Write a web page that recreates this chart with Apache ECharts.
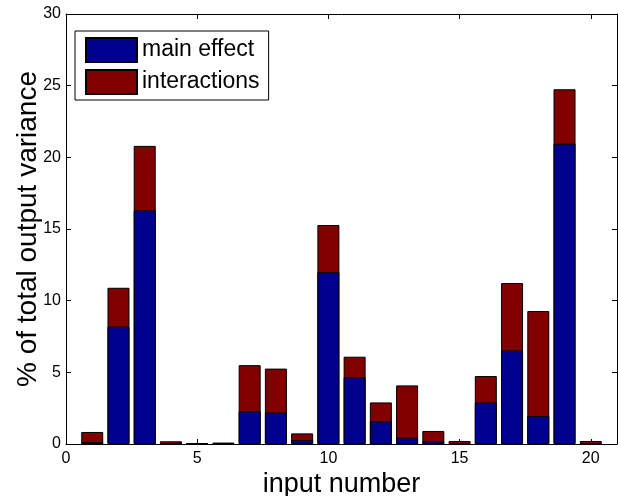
<!DOCTYPE html>
<html>
<head>
<meta charset="utf-8">
<script src="https://cdn.jsdelivr.net/npm/echarts@6/dist/echarts.min.js"></script>
<style>
    html, body { margin: 0; padding: 0; background: #fff; }
    #chart { width: 618px; height: 496px; }
</style>
</head>
<body>
<div id="chart"></div>
<script>
//---------------------------Data---------------------------
let inputs = [1, 2, 3, 4, 5, 6, 7, 8, 9, 10, 11, 12, 13, 14, 15, 16, 17, 18, 19, 20];
let mainEffect = [0.14, 8.2, 16.3, 0.05, 0.03, 0.05, 2.28, 2.2, 0.28, 11.98, 4.65, 1.58, 0.44, 0.19, 0.05, 2.9, 6.53, 1.95, 20.95, 0.05];
let totalEffect = [0.84, 10.9, 20.8, 0.19, 0.07, 0.1, 5.5, 5.26, 0.74, 15.28, 6.09, 2.9, 4.09, 0.91, 0.21, 4.74, 11.23, 9.28, 24.75, 0.21];
let xTicks = [0, 5, 10, 15, 20];
let yTicks = [0, 5, 10, 15, 20, 25, 30];

//---------------------------Build---------------------------
//interactions bar spans the full total, main effect is drawn over its lower part
let mainData = [];
let totalData = [];
for (let i = 0; i < inputs.length; i++) {
    mainData.push([inputs[i], mainEffect[i]]);
    totalData.push([inputs[i], totalEffect[i]]);
}

let font = 'Liberation Sans, Arial, sans-serif';
let black = '#000';

function boxAxis(pos, isX, showLabel) {
    return {
        type: 'value',
        position: pos,
        min: 0,
        max: isX ? 21 : 30,
        interval: 5,
        axisLine: { show: true, onZero: false, lineStyle: { color: black, width: 1 } },
        axisTick: { show: true, inside: true, length: 5, lineStyle: { color: black } },
        axisLabel: {
            show: showLabel,
            color: black,
            fontFamily: font,
            fontSize: 16,
            margin: isX ? 7 : 5,
            customValues: isX ? xTicks : yTicks
        },
        splitLine: { show: false }
    };
}

let xBottom = boxAxis('bottom', true, true);
xBottom.name = 'input number';
xBottom.nameLocation = 'middle';
xBottom.nameGap = 27;
xBottom.nameMoveOverlap = false;
xBottom.nameTextStyle = { color: black, fontFamily: font, fontSize: 27 };

let yLeft = boxAxis('left', false, true);
yLeft.name = '% of total output variance';
yLeft.nameLocation = 'middle';
yLeft.nameGap = 24;
yLeft.nameMoveOverlap = false;
yLeft.nameTextStyle = { color: black, fontFamily: font, fontSize: 28 };

let option = {
    animation: false,
    backgroundColor: '#fff',
    grid: { left: 66, right: 1, top: 14, bottom: 52, outerBoundsMode: 'none' },
    legend: {
        left: 75,
        top: 31,
        orient: 'vertical',
        backgroundColor: '#fff',
        borderColor: black,
        borderWidth: 1,
        borderRadius: 0,
        padding: [6, 9, 5, 10],
        itemGap: 6,
        itemWidth: 51,
        itemHeight: 24,
        icon: 'rect',
        textStyle: { color: black, fontFamily: font, fontSize: 23 },
        data: ['main effect', 'interactions']
    },
    xAxis: [xBottom, boxAxis('top', true, false)],
    yAxis: [yLeft, boxAxis('right', false, false)],
    series: [
        {
            name: 'interactions',
            type: 'bar',
            barWidth: 22,
            barGap: '-100%',
            data: totalData,
            itemStyle: { color: '#800000', borderColor: black, borderWidth: 1 }
        },
        {
            name: 'main effect',
            type: 'bar',
            barWidth: 22,
            barGap: '-100%',
            data: mainData,
            itemStyle: { color: '#00008f', borderColor: black, borderWidth: 1 }
        }
    ]
};

let chart = echarts.init(document.getElementById('chart'));
chart.setOption(option);
</script>
</body>
</html>
